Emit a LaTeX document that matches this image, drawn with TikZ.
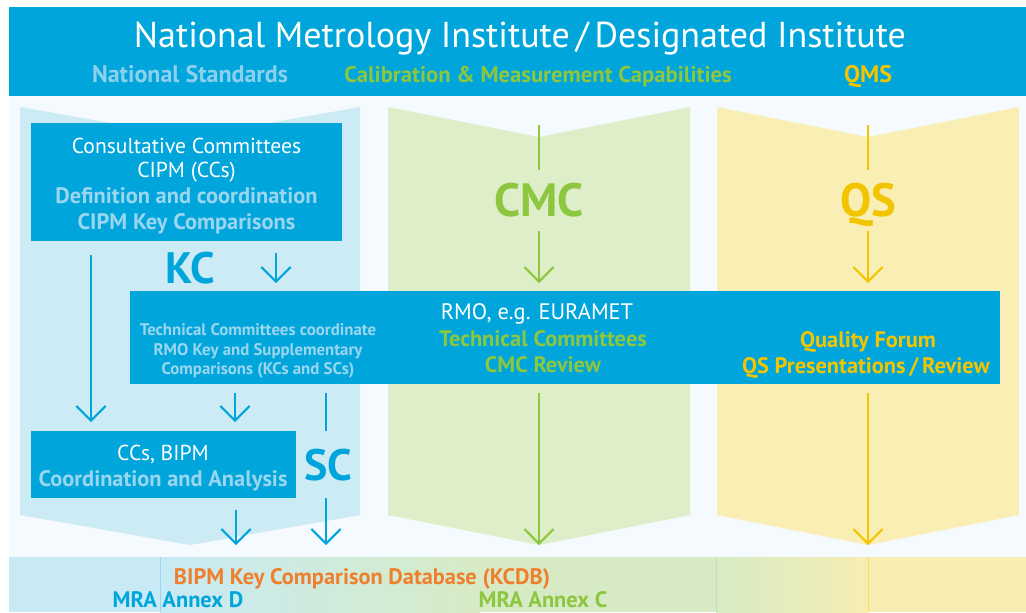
\documentclass[tikz,border=0pt]{standalone}
\usepackage{fontspec}
\setmainfont{PT Sans}
\usetikzlibrary{arrows.meta}
\definecolor{hblue}{HTML}{00A6DB}
\definecolor{lblue}{HTML}{CDEBF5}
\definecolor{tblue}{HTML}{9BD6F0}
\definecolor{sblue}{HTML}{8DD0EE}
\definecolor{hgreen}{HTML}{8DC63F}
\definecolor{lgreen}{HTML}{DDEEC8}
\definecolor{hyellow}{HTML}{F2C500}
\definecolor{lyellow}{HTML}{F9EEB4}
\definecolor{horange}{HTML}{F07F2D}
\definecolor{bgpale}{HTML}{F5FAFE}
\definecolor{bandblue}{HTML}{C8EAF5}
\definecolor{bandgreen}{HTML}{D6EBC5}
\definecolor{bandyellow}{HTML}{F7EDB3}
\begin{document}
\begin{tikzpicture}[x=0.75pt,y=-0.75pt,
  boxst/.style={fill=hblue,draw=none,inner sep=0pt,rectangle},
  txt/.style={anchor=base,inner sep=0pt},
  reg/.style={txt,font=\fontsize{16.2}{19}\selectfont},
  bld/.style={txt,font=\fontsize{16.8}{20}\selectfont\bfseries},
  big/.style={txt,font=\fontsize{33}{39}\selectfont\bfseries},
  small/.style={txt,font=\fontsize{12.6}{15}\selectfont\bfseries},
  arr/.style={line width=1.5pt,-{Straight Barb[length=11pt,width=22pt]}},
  ln/.style={line width=1.5pt}
]
\useasboundingbox (0,0) rectangle (1026,612);
\fill[white] (0,0) rectangle (1026,612);
% background
\fill[bgpale] (9,96) rectangle (1026,612);
\fill[hblue] (9,7) rectangle (1026,96);
% panels
\fill[lblue] (20,107) -- (190,137) -- (360,107) -- (360,515) -- (190,545) -- (20,515) -- cycle;
\fill[lgreen] (388,107) -- (539,137) -- (690,107) -- (690,515) -- (539,545) -- (388,515) -- cycle;
\fill[lyellow] (717,107) -- (868,137) -- (1019,107) -- (1019,515) -- (868,545) -- (717,515) -- cycle;
% bottom band
\fill[bandblue] (9,557) rectangle (160,612);
\shade[left color=bandblue,right color=bandgreen] (160,557) rectangle (480,612);
\fill[bandgreen] (480,557) rectangle (716,612);
\shade[left color=bandgreen,right color=bandyellow] (716,557) rectangle (868,612);
\fill[bandyellow] (868,557) rectangle (1026,612);
\draw[color=tblue,line width=0.75pt] (160,557) -- (160,612);
\draw[color=hgreen!50,line width=0.75pt] (716,557) -- (716,612);
\draw[color=hyellow!60,line width=0.75pt] (868,557) -- (868,612);

% header texts
\node[txt,white,font=\fontsize{27}{33}\selectfont] (title) at (520,47) {National Metrology Institute\thinspace/\thinspace Designated Institute};
\node[txt,sblue,font=\fontsize{18}{21}\selectfont\bfseries] (hns) at (190,82) {National Standards};
\node[txt,hgreen,font=\fontsize{17}{20}\selectfont\bfseries] (hcmc) at (538,82) {Calibration \& Measurement Capabilities};
\node[txt,hyellow,font=\fontsize{18}{21}\selectfont\bfseries] (hqms) at (868,82) {QMS};

% boxes
\node[boxst,minimum width=233.25pt,minimum height=88.5pt] (cc) at (186.5,182) {};
\node[boxst,minimum width=652.5pt,minimum height=69.75pt] (rmo) at (565,337.5) {};
\node[boxst,minimum width=198.75pt,minimum height=50.25pt] (bipm) at (163.5,464.5) {};

% CC texts
\node[reg,white] (cc1) at (186.5,153) {Consultative Committees};
\node[reg,white] (cc2) at (186.5,177) {CIPM (CCs)};
\node[bld,tblue] (cc3) at (186.5,203) {Definition and coordination};
\node[bld,tblue] (cc4) at (186.5,229) {CIPM Key Comparisons};

\node[big,hblue] (kc) at (190,283) {KC};
\node[big,hblue] (sc) at (328,480) {SC};
\node[big,hgreen,font=\fontsize{35}{40}\selectfont\bfseries] (cmc) at (539,216) {CMC};
\node[big,hyellow,font=\fontsize{35}{40}\selectfont\bfseries] (qs) at (868,216) {QS};

% RMO texts
\node[small,tblue] (r1) at (258,335) {Technical Committees coordinate};
\node[small,tblue] (r2) at (258,355) {RMO Key and Supplementary};
\node[small,tblue] (r3) at (258,374) {Comparisons (KCs and SCs)};
\node[reg,white,font=\fontsize{16.8}{20}\selectfont] (r4) at (537,319) {RMO, e.g. EURAMET};
\node[bld,hgreen] (r5) at (543,346) {Technical Committees};
\node[bld,hgreen] (r6) at (543,372) {CMC Review};
\node[bld,hyellow] (r7) at (868,347) {Quality Forum};
\node[bld,hyellow] (r8) at (866,373) {QS Presentations\thinspace/\thinspace Review};

% BIPM texts
\node[reg,white] (b1) at (163,460) {CCs, BIPM};
\node[bld,tblue] (b2) at (163,486) {Coordination and Analysis};

% bottom texts
\node[bld,horange] (kcdb) at (362,584) {BIPM Key Comparison Database (KCDB)};
\node[bld,hblue] (annd) at (178,607) {MRA Annex D};
\node[bld,hgreen] (annc) at (543,607) {MRA Annex C};

% arrow coordinates
\coordinate (a1s) at (91,255); \coordinate (a1e) at (91,422);
\coordinate (a2s) at (276,253); \coordinate (a2e) at (276,283);
\coordinate (a3s) at (235,393); \coordinate (a3e) at (235,422);
\coordinate (s1s) at (326,393); \coordinate (s1e) at (326,431);
\coordinate (a4s) at (326,498); \coordinate (a4e) at (326,545);
\coordinate (a5s) at (236,510); \coordinate (a5e) at (236,545);
\coordinate (g1s) at (539,125); \coordinate (g1e) at (539,170);
\coordinate (g2s) at (539,231); \coordinate (g2e) at (539,283);
\coordinate (g3s) at (539,393); \coordinate (g3e) at (539,545);
\coordinate (y1s) at (868,125); \coordinate (y1e) at (868,170);
\coordinate (y2s) at (868,231); \coordinate (y2e) at (868,283);
\coordinate (y3s) at (868,393); \coordinate (y3e) at (868,545);

\draw[arr,hblue] (a1s) -- (a1e);
\draw[arr,hblue] (a2s) -- (a2e);
\draw[arr,hblue] (a3s) -- (a3e);
\draw[ln,hblue] (s1s) -- (s1e);
\draw[arr,hblue] (a4s) -- (a4e);
\draw[arr,hblue] (a5s) -- (a5e);
\draw[ln,hgreen] (g1s) -- (g1e);
\draw[arr,hgreen] (g2s) -- (g2e);
\draw[arr,hgreen] (g3s) -- (g3e);
\draw[ln,hyellow] (y1s) -- (y1e);
\draw[arr,hyellow] (y2s) -- (y2e);
\draw[arr,hyellow] (y3s) -- (y3e);
\end{tikzpicture}
\end{document}
